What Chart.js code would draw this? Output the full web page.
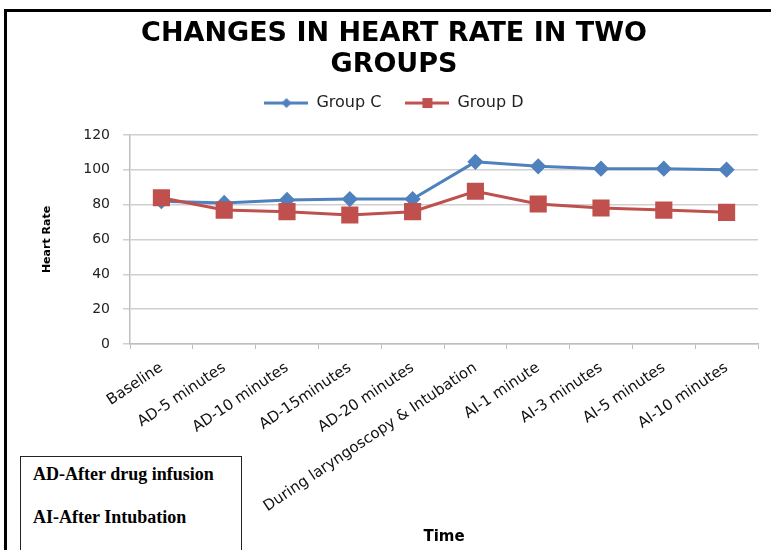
<!DOCTYPE html>
<html>
<head>
<meta charset="utf-8">
<script src="https://cdn.jsdelivr.net/npm/chart.js@4.4.1/dist/chart.umd.min.js"></script>
<style>
  html, body { margin: 0; padding: 0; background: #fff; overflow: hidden; }
  #wrap { position: relative; width: 771px; height: 550px; }
  #heartChart { position: absolute; left: 0; top: 0; }
  #frame { position: absolute; left: 4px; top: 9px; width: 800px; height: 600px;
           border: 3px solid #000; pointer-events: none; }
  #note { position: absolute; left: 20px; top: 456px; width: 220px; height: 120px;
          border: 1px solid #222; background: #fff;
          font-family: 'Liberation Serif', 'Times New Roman', serif; font-weight: bold;
          font-size: 18px; line-height: 20px; color: #000; }
  #note div { position: absolute; left: 12px; white-space: nowrap; }
</style>
</head>
<body>
<div id="wrap">
  <canvas id="heartChart" width="771" height="550"></canvas>
  <div id="frame"></div>
  <div id="note">
    <div style="top: 7px">AD-After drug infusion</div>
    <div style="top: 50px">AI-After Intubation</div>
  </div>
</div>
<script>
// time points on the x axis
const timePoints = ['Baseline', 'AD-5 minutes', 'AD-10 minutes', 'AD-15minutes', 'AD-20 minutes',
  'During laryngoscopy & Intubation', 'AI-1 minute', 'AI-3 minutes', 'AI-5 minutes', 'AI-10 minutes'];

// mean heart rate per group
const groupC = [82, 81, 82.7, 83.2, 83.2, 104.6, 102, 100.7, 100.7, 100.1];
const groupD = [84, 76.9, 76, 74.1, 76, 87.7, 80.4, 78.1, 76.9, 75.6];

const seriesNames = ['Group C', 'Group D'];
const seriesColors = ['#4F81BD', '#C0504D'];

const yTicks = [0, 20, 40, 60, 80, 100, 120];

// small line + marker icons for the legend
function legendIcon(color, shape) {
  const c = document.createElement('canvas');
  c.width = 44; c.height = 16;
  const g = c.getContext('2d');
  g.strokeStyle = color;
  g.lineWidth = 3;
  g.beginPath(); g.moveTo(0, 8); g.lineTo(44, 8); g.stroke();
  g.fillStyle = color;
  if (shape === 'diamond') {
    g.beginPath(); g.moveTo(22, 3); g.lineTo(27, 8); g.lineTo(22, 13); g.lineTo(17, 8); g.closePath(); g.fill();
  } else {
    g.fillRect(17, 3, 10, 10);
  }
  return c;
}
const legendIcons = [legendIcon(seriesColors[0], 'diamond'), legendIcon(seriesColors[1], 'square')];

Chart.defaults.font.family = "'DejaVu Sans', sans-serif";
Chart.defaults.color = '#000';

let ctx = document.getElementById('heartChart').getContext('2d');
let heartChart = new Chart(ctx, {
  type: 'line',
  data: {
    labels: timePoints,
    datasets: [{
      label: seriesNames[0],
      data: groupC,
      borderColor: seriesColors[0],
      backgroundColor: seriesColors[0],
      borderWidth: 3,
      pointStyle: 'rectRot',
      pointRadius: 6,
      pointHoverRadius: 6,
      tension: 0,
      order: 1
    }, {
      label: seriesNames[1],
      data: groupD,
      borderColor: seriesColors[1],
      backgroundColor: seriesColors[1],
      borderWidth: 3,
      pointStyle: 'rect',
      pointRadius: 10,
      pointHoverRadius: 10,
      tension: 0,
      order: 0
    }]
  },
  options: {
    responsive: false,
    animation: false,
    layout: {
      padding: { left: 30, right: 13, top: 0, bottom: 0 }
    },
    plugins: {
      title: {
        display: true,
        text: ['CHANGES IN HEART RATE IN TWO', 'GROUPS'],
        font: { size: 27, weight: 'bold', lineHeight: 1.13 },
        color: '#000',
        padding: { top: 19, bottom: -9 }
      },
      subtitle: {
        // spacer between legend and plot
        display: true,
        text: '',
        weight: 500,
        font: { size: 10, lineHeight: 1 },
        padding: { top: 0, bottom: 4 }
      },
      legend: {
        position: 'top',
        labels: {
          usePointStyle: true,
          pointStyleWidth: 44,
          padding: 24,
          font: { size: 16 },
          color: '#222',
          generateLabels(chart) {
            const items = Chart.defaults.plugins.legend.labels.generateLabels(chart);
            items.sort((a, b) => a.datasetIndex - b.datasetIndex);
            items.forEach(it => { it.pointStyle = legendIcons[it.datasetIndex]; });
            return items;
          }
        }
      },
      tooltip: { enabled: false }
    },
    scales: {
      x: {
        offset: true,
        afterFit(scale) { scale.height = 206; },
        grid: {
          offset: true,
          drawOnChartArea: false,
          drawTicks: true,
          tickLength: 5,
          color: '#bfbfbf'
        },
        border: { display: true, color: '#bfbfbf', width: 1.5 },
        ticks: {
          minRotation: 34,
          maxRotation: 34,
          autoSkip: false,
          padding: 10,
          font: { size: 15 },
          color: '#111'
        },
        title: {
          display: true,
          text: 'Time',
          font: { size: 15, weight: 'bold' },
          padding: { top: 0, bottom: 4 }
        }
      },
      y: {
        min: 0,
        max: 120,
        afterFit(scale) { scale.width = 100; },
        afterBuildTicks(scale) { scale.ticks = yTicks.map(v => ({ value: v })); },
        grid: {
          color: '#cfcfcf',
          lineWidth: 1.5,
          drawTicks: true,
          tickLength: 7
        },
        border: { display: true, color: '#bfbfbf', width: 1.5 },
        ticks: {
          padding: 13,
          font: { size: 14 },
          color: '#222'
        },
        title: {
          display: true,
          text: 'Heart Rate',
          font: { size: 11, weight: 'bold' },
          padding: { top: 11, bottom: 0 }
        }
      }
    }
  }
});
</script>
</body>
</html>
